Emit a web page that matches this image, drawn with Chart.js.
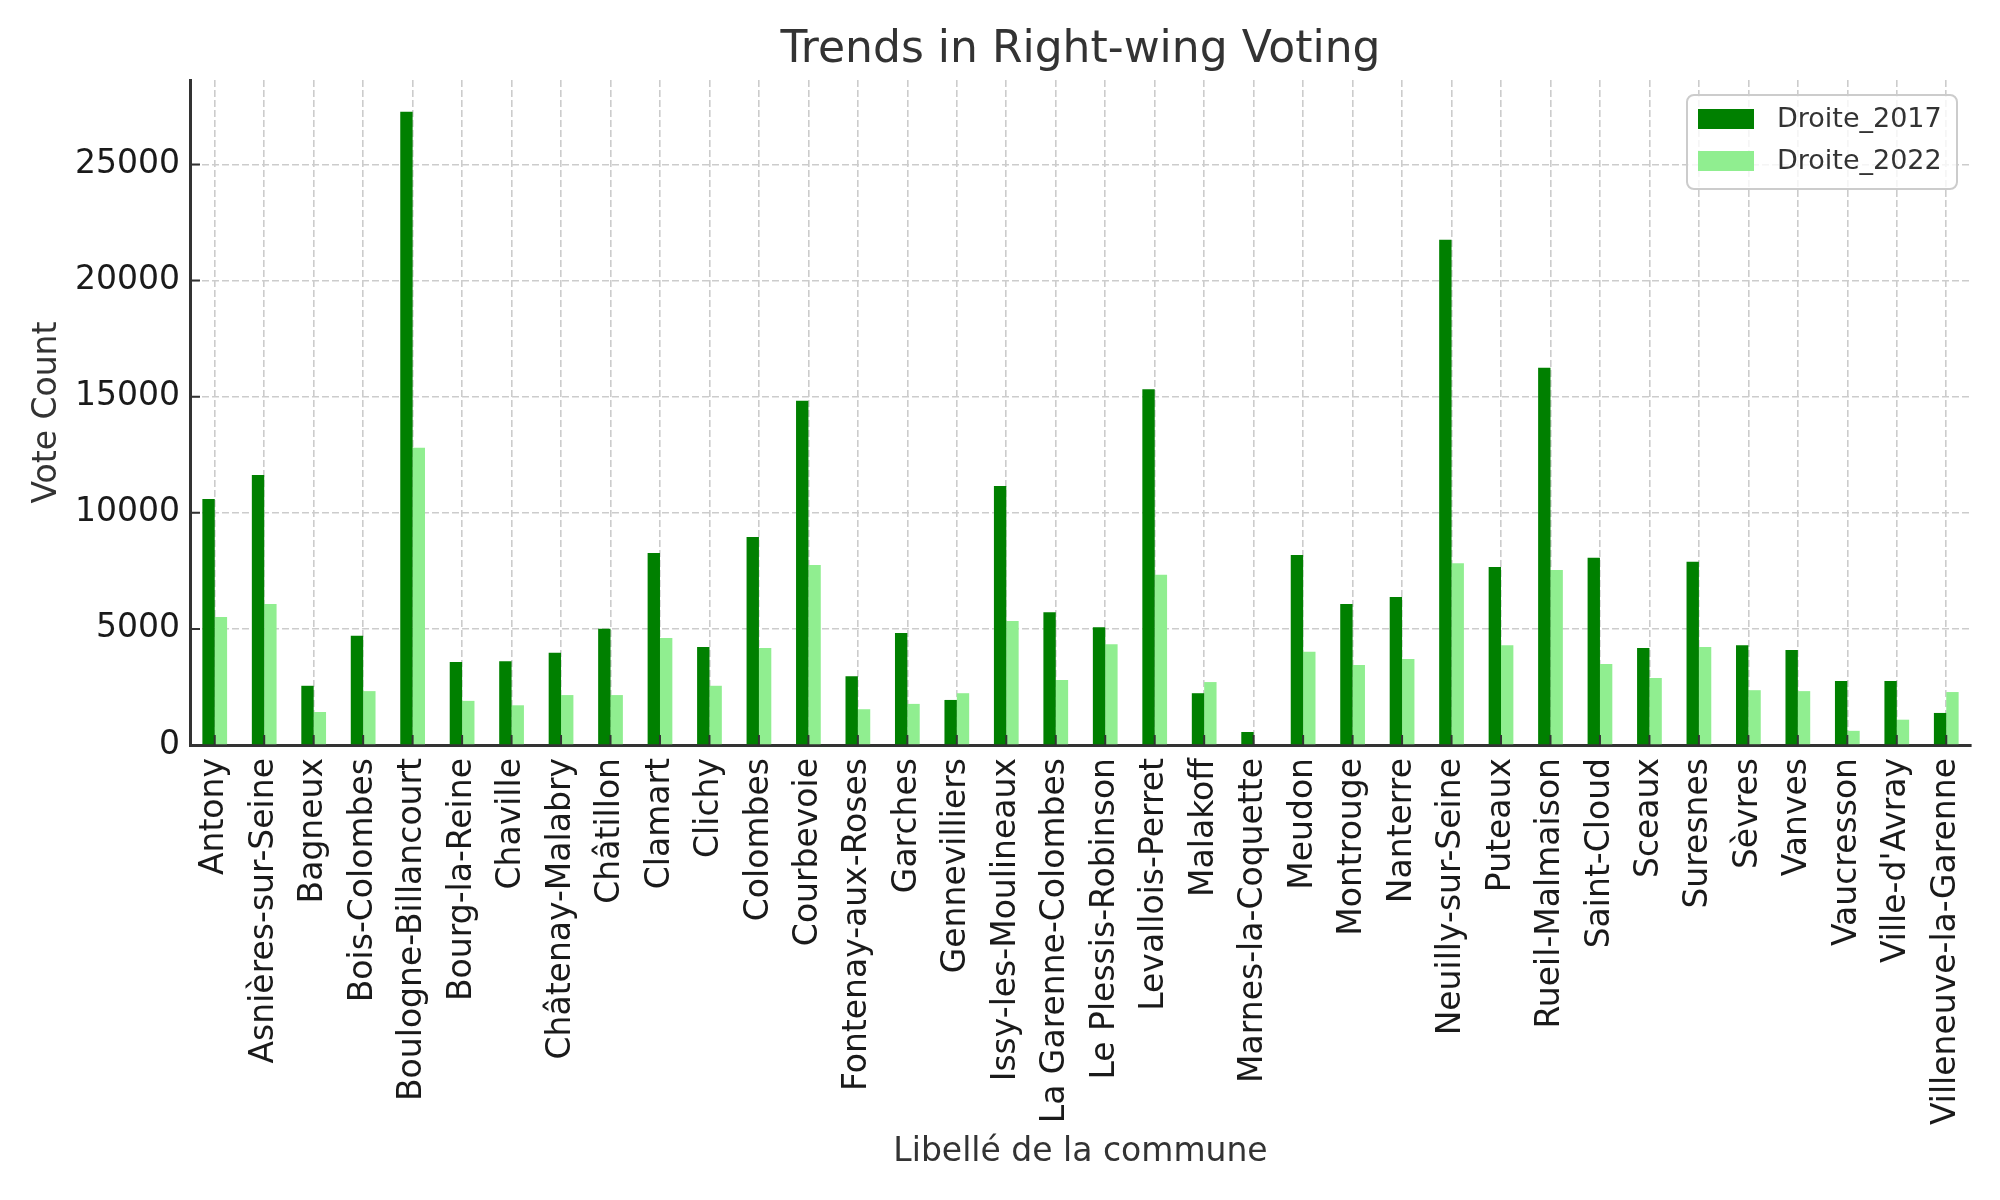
<!DOCTYPE html>
<html>
<head>
<meta charset="utf-8">
<script src="https://cdn.jsdelivr.net/npm/chart.js@4.4.1/dist/chart.umd.min.js"></script>
<style>
  html, body { margin: 0; padding: 0; background: #ffffff; }
  #wrap { width: 2000px; height: 1200px; position: relative; }
</style>
</head>
<body>
<div id="wrap"><canvas id="c" width="2000" height="1200"></canvas></div>
<script>
const communes = ["Antony", "Asnières-sur-Seine", "Bagneux", "Bois-Colombes", "Boulogne-Billancourt", "Bourg-la-Reine", "Chaville", "Châtenay-Malabry", "Châtillon", "Clamart", "Clichy", "Colombes", "Courbevoie", "Fontenay-aux-Roses", "Garches", "Gennevilliers", "Issy-les-Moulineaux", "La Garenne-Colombes", "Le Plessis-Robinson", "Levallois-Perret", "Malakoff", "Marnes-la-Coquette", "Meudon", "Montrouge", "Nanterre", "Neuilly-sur-Seine", "Puteaux", "Rueil-Malmaison", "Saint-Cloud", "Sceaux", "Suresnes", "Sèvres", "Vanves", "Vaucresson", "Ville-d'Avray", "Villeneuve-la-Garenne"];
const droite2017 = [10590, 11630, 2550, 4700, 27270, 3570, 3610, 3970, 5010, 8270, 4220, 8960, 14820, 2960, 4820, 1940, 11150, 5720, 5070, 15320, 2230, 560, 8180, 6070, 6370, 21750, 7660, 16240, 8060, 4180, 7890, 4300, 4090, 2760, 2760, 1380];
const droite2022 = [5510, 6070, 1420, 2320, 12800, 1900, 1710, 2150, 2150, 4610, 2550, 4180, 7750, 1540, 1770, 2230, 5340, 2800, 4340, 7330, 2710, 0, 4010, 3440, 3700, 7830, 4300, 7540, 3490, 2880, 4220, 2360, 2320, 610, 1090, 2280];
const seriesNames = ["Droite_2017", "Droite_2022"];
const yTicks = [0, 5000, 10000, 15000, 20000, 25000];
const yMax = 28634;
const chartTitle = 'Trends in Right-wing Voting';

const COL_DARK = '#008000';
const COL_LIGHT = '#90ee90';
const FONT = '"DejaVu Sans", sans-serif';

const innerTicks = {
  id: 'innerTicks',
  afterDatasetsDraw(chart) {
    const ctx = chart.ctx;
    const xs = chart.scales.x, ys = chart.scales.y;
    const a = chart.chartArea;
    ctx.save();
    ctx.strokeStyle = '#333333';
    ctx.lineWidth = 2;
    ctx.beginPath();
    for (let i = 0; i < communes.length; i++) {
      const px = xs.getPixelForValue(i);
      ctx.moveTo(px, a.bottom);
      ctx.lineTo(px, a.bottom - 10);
    }
    yTicks.forEach(v => {
      const py = ys.getPixelForValue(v);
      ctx.moveTo(a.left, py);
      ctx.lineTo(a.left + 10, py);
    });
    ctx.stroke();
    ctx.restore();
  }
};

const areaTitle = {
  id: 'areaTitle',
  afterDraw(chart) {
    const ctx = chart.ctx;
    const a = chart.chartArea;
    ctx.save();
    ctx.font = '44px ' + FONT;
    ctx.fillStyle = '#333333';
    ctx.textAlign = 'center';
    ctx.textBaseline = 'alphabetic';
    ctx.fillText(chartTitle, (a.left + a.right) / 2, 62);
    ctx.restore();
  }
};

const boxLegend = {
  id: 'boxLegend',
  afterDraw(chart) {
    const ctx = chart.ctx;
    const x0 = 1687, y0 = 95, w = 270, h = 94, r = 7;
    ctx.save();
    ctx.beginPath();
    ctx.moveTo(x0 + r, y0);
    ctx.arcTo(x0 + w, y0, x0 + w, y0 + h, r);
    ctx.arcTo(x0 + w, y0 + h, x0, y0 + h, r);
    ctx.arcTo(x0, y0 + h, x0, y0, r);
    ctx.arcTo(x0, y0, x0 + w, y0, r);
    ctx.closePath();
    ctx.fillStyle = 'rgba(255,255,255,0.8)';
    ctx.fill();
    ctx.strokeStyle = '#cccccc';
    ctx.lineWidth = 2;
    ctx.stroke();
    const rows = [119, 161];
    ctx.font = '27px ' + FONT;
    ctx.textBaseline = 'middle';
    ctx.textAlign = 'left';
    chart.data.datasets.forEach((d, i) => {
      ctx.fillStyle = d.backgroundColor;
      ctx.fillRect(1698, rows[i] - 10, 56, 20);
      ctx.fillStyle = '#333333';
      ctx.fillText(d.label, 1777, rows[i] + 1);
    });
    ctx.restore();
  }
};

new Chart(document.getElementById('c'), {
  type: 'bar',
  data: {
    labels: communes,
    datasets: [
      { label: seriesNames[0], data: droite2017, backgroundColor: COL_DARK, borderWidth: 0,
        categoryPercentage: 0.5, barPercentage: 1.0 },
      { label: seriesNames[1], data: droite2022, backgroundColor: COL_LIGHT, borderWidth: 0,
        categoryPercentage: 0.5, barPercentage: 1.0 }
    ]
  },
  options: {
    responsive: false,
    animation: false,
    devicePixelRatio: 1,
    layout: { padding: { left: 0, right: 29, top: 80, bottom: 0 } },
    plugins: {
      legend: { display: false },
      tooltip: { enabled: false },
      title: { display: false }
    },
    scales: {
      x: {
        offset: true,
        grid: { display: true, offset: false, drawTicks: false, color: '#cccccc', lineWidth: 1.6 },
        border: { display: true, color: '#333333', width: 3, dash: [7, 3] },
        ticks: {
          autoSkip: false, minRotation: 90, maxRotation: 90, padding: 13,
          color: '#1a1a1a', font: { family: FONT, size: 33 }
        },
        title: {
          display: true, text: 'Libellé de la commune', color: '#333333',
          font: { family: FONT, size: 33 }, padding: { top: 0, bottom: 28 }
        },
        afterFit(scale) { scale.height = 1200 - 745; }
      },
      y: {
        min: 0, max: yMax,
        grid: { display: true, drawTicks: false, color: '#cccccc', lineWidth: 1.6 },
        border: { display: true, color: '#333333', width: 3, dash: [7, 3] },
        ticks: {
          stepSize: 5000, padding: 10, color: '#1a1a1a',
          font: { family: FONT, size: 33 },
          callback: v => String(v)
        },
        afterBuildTicks(scale) {
          scale.ticks = yTicks.map(v => ({ value: v }));
        },
        title: {
          display: true, text: 'Vote Count', color: '#333333',
          font: { family: FONT, size: 33 }, padding: { top: 28, bottom: 0 }
        },
        afterFit(scale) { scale.width = 190; }
      }
    }
  },
  plugins: [innerTicks, areaTitle, boxLegend]
});
</script>
</body>
</html>
